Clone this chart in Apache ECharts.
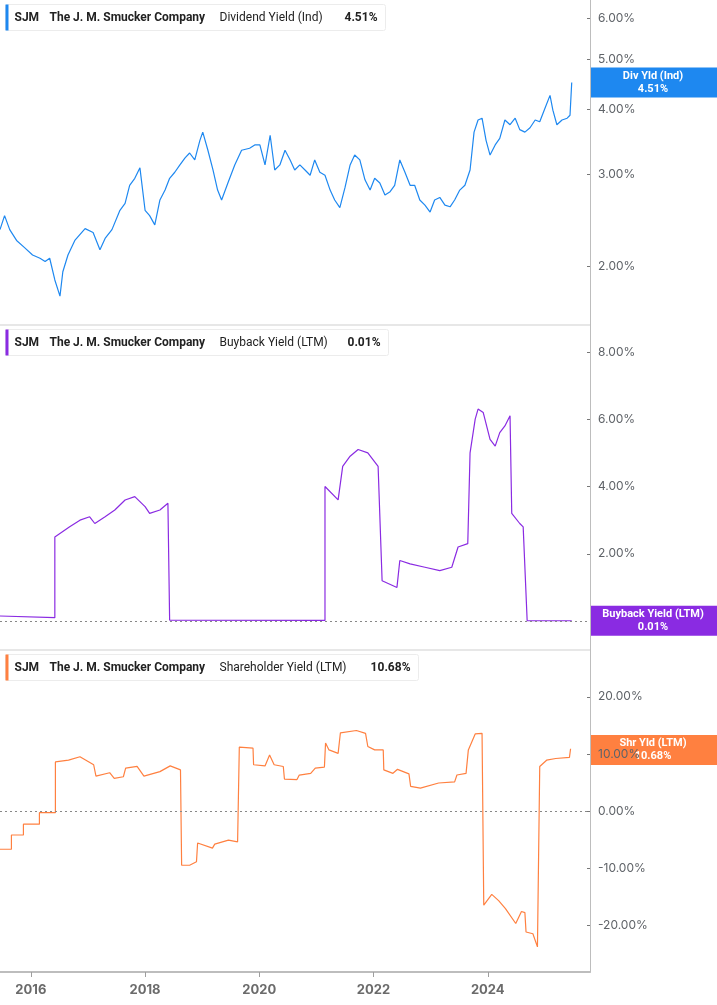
<!DOCTYPE html>
<html lang="en">
<head>
  <meta charset="UTF-8">
  <title>SJM yields</title>
  <style>
    html, body { margin: 0; padding: 0; background: #fff; }
  </style>
</head>
<body>
  <div id="echarts" style="width: 717px; height: 1005px;"></div>
  <script src="https://cdn.jsdelivr.net/npm/echarts@6/dist/echarts.min.js"></script>
  <script>
    // x values are decimal years
    const yearTicks = [2016, 2018, 2020, 2022, 2024];

    // Dividend Yield (Ind), %
    const divT = [2015.46, 2015.54, 2015.63, 2015.75, 2015.89, 2016.03, 2016.16, 2016.25, 2016.33, 2016.42, 2016.51, 2016.56, 2016.65, 2016.77, 2016.95,
      2017.09, 2017.21, 2017.30, 2017.42, 2017.56, 2017.65, 2017.73, 2017.82, 2017.91, 2018.00, 2018.08, 2018.17, 2018.26, 2018.35, 2018.43,
      2018.52, 2018.61, 2018.70, 2018.78, 2018.87, 2018.96, 2019.01, 2019.10, 2019.19, 2019.27, 2019.34, 2019.45, 2019.57, 2019.69, 2019.83,
      2019.92, 2020.01, 2020.10, 2020.19, 2020.27, 2020.36, 2020.45, 2020.54, 2020.62, 2020.71, 2020.80, 2020.89, 2020.97, 2021.06, 2021.15,
      2021.24, 2021.32, 2021.41, 2021.50, 2021.59, 2021.67, 2021.76, 2021.85, 2021.94, 2022.02, 2022.11, 2022.20, 2022.29, 2022.37, 2022.46,
      2022.55, 2022.64, 2022.72, 2022.81, 2022.90, 2022.99, 2023.07, 2023.16, 2023.25, 2023.34, 2023.42, 2023.51, 2023.60, 2023.69, 2023.76,
      2023.83, 2023.90, 2023.97, 2024.04, 2024.13, 2024.21, 2024.30, 2024.39, 2024.48, 2024.56, 2024.65, 2024.74, 2024.83, 2024.91, 2025.00,
      2025.09, 2025.14, 2025.21, 2025.30, 2025.39, 2025.44, 2025.47];
    const divV = [2.35, 2.50, 2.35, 2.24, 2.17, 2.10, 2.07, 2.04, 2.07, 1.88, 1.75, 1.95, 2.10, 2.24, 2.36,
      2.32, 2.15, 2.26, 2.35, 2.56, 2.64, 2.86, 2.95, 3.09, 2.56, 2.50, 2.40, 2.68, 2.80, 2.95,
      3.03, 3.13, 3.23, 3.30, 3.20, 3.49, 3.62, 3.34, 3.06, 2.80, 2.68, 2.89, 3.13, 3.34, 3.37,
      3.42, 3.42, 3.13, 3.57, 3.06, 3.13, 3.34, 3.20, 3.06, 3.13, 3.06, 2.99, 3.20, 3.03, 2.99,
      2.80, 2.68, 2.59, 2.83, 3.13, 3.27, 3.20, 2.93, 2.80, 2.95, 2.89, 2.74, 2.78, 2.86, 3.20,
      3.03, 2.86, 2.86, 2.68, 2.62, 2.54, 2.68, 2.71, 2.62, 2.60, 2.68, 2.80, 2.86, 3.06, 3.62,
      3.82, 3.85, 3.49, 3.27, 3.42, 3.52, 3.82, 3.74, 3.85, 3.66, 3.62, 3.69, 3.82, 3.79, 4.02,
      4.26, 3.99, 3.74, 3.82, 3.85, 3.90, 4.51];

    // Buyback Yield (LTM), %
    const bbT = [2015.46, 2016.42, 2016.42, 2016.68, 2016.86, 2017.03, 2017.12, 2017.30, 2017.47, 2017.65, 2017.82, 2018.00, 2018.08, 2018.26, 2018.40, 2018.43,
      2021.15, 2021.15, 2021.38, 2021.46, 2021.59, 2021.73, 2021.90, 2022.08, 2022.15, 2022.41, 2022.46, 2022.64, 2022.90, 2023.16, 2023.37, 2023.48, 2023.65,
      2023.69, 2023.78, 2023.83, 2023.92, 2024.04, 2024.13, 2024.21, 2024.30, 2024.39, 2024.42, 2024.56, 2024.62, 2024.69, 2025.47];
    const bbV = [0.15, 0.10, 2.50, 2.80, 3.00, 3.10, 2.90, 3.10, 3.30, 3.60, 3.70, 3.40, 3.20, 3.30, 3.50, 0.03,
      0.02, 4.00, 3.60, 4.60, 4.90, 5.10, 5.00, 4.60, 1.20, 1.00, 1.80, 1.70, 1.60, 1.50, 1.60, 2.20, 2.30,
      5.00, 6.00, 6.30, 6.20, 5.40, 5.20, 5.60, 5.80, 6.10, 3.20, 2.90, 2.80, 0.01, 0.01];

    // Shareholder Yield (LTM), %
    const shT = [2015.46, 2015.66, 2015.66, 2015.87, 2015.87, 2016.15, 2016.15, 2016.43, 2016.43, 2016.66, 2016.86, 2017.10, 2017.14, 2017.38, 2017.46, 2017.62,
      2017.66, 2017.86, 2017.98, 2018.26, 2018.44, 2018.62, 2018.64, 2018.78, 2018.90, 2018.92, 2019.18, 2019.22, 2019.46, 2019.62, 2019.65,
      2019.89, 2019.90, 2020.10, 2020.18, 2020.26, 2020.42, 2020.44, 2020.66, 2020.70, 2020.90, 2020.98, 2021.14, 2021.16, 2021.22, 2021.38,
      2021.42, 2021.70, 2021.86, 2021.90, 2022.02, 2022.17, 2022.18, 2022.34, 2022.42, 2022.62, 2022.65, 2022.82, 2023.14, 2023.42, 2023.46,
      2023.62, 2023.66, 2023.78, 2023.90, 2023.93, 2024.07, 2024.19, 2024.31, 2024.49, 2024.59, 2024.65, 2024.67, 2024.79, 2024.87, 2024.91,
      2025.03, 2025.19, 2025.43, 2025.45];
    const shV = [-6.7, -6.7, -4.2, -4.2, -2.3, -2.3, -0.3, -0.3, 8.6, 8.9, 9.5, 8.1, 6.1, 6.7, 5.7, 6.0,
      7.5, 7.8, 6.1, 6.9, 7.9, 7.2, -9.5, -9.5, -8.9, -5.6, -6.5, -5.8, -5.1, -5.4, 11.2,
      11.0, 8.1, 7.9, 9.8, 8.1, 7.8, 5.6, 5.5, 6.3, 6.6, 7.5, 7.7, 11.9, 10.7, 10.1,
      13.7, 14.1, 13.6, 11.3, 10.7, 10.7, 7.2, 6.6, 7.3, 6.5, 4.3, 4.0, 4.9, 5.1, 6.3,
      6.6, 10.7, 13.5, 13.6, -16.5, -14.6, -15.7, -17.1, -19.7, -17.6, -17.8, -21.2, -21.5, -23.8, 7.8,
      8.9, 9.2, 9.4, 10.9];

    const divLog = [2, 3, 4, 5, 6];
    const bbTicks = [2, 4, 6, 8];
    const shTicks = [-20, -10, 0, 10, 20];

    const pair = (t, v) => t.map((x, i) => [x, v[i]]);
    const labelFont = { color: '#5f6368', fontSize: 12, fontFamily: 'Inter' };

    function xAxisFor(idx, show) {
      return {
        type: 'value', gridIndex: idx, min: 2015.46, max: 2025.79,
        axisLine: { show: show, onZero: false, lineStyle: { color: '#bdbdbd', width: 2 } },
        axisTick: { show: show, customValues: yearTicks, length: 5, lineStyle: { color: '#9e9e9e' } },
        axisLabel: { show: show, customValues: yearTicks, formatter: v => String(v), color: '#6b6b6b', fontSize: 13, fontWeight: 'bold', fontFamily: 'Inter', margin: 12 },
        splitLine: { show: false }
      };
    }
    function yAxisFor(idx, opts) {
      return Object.assign({
        gridIndex: idx, position: 'right',
        axisLine: { show: true, lineStyle: { color: '#bdbdbd', width: 1 } },
        axisLabel: Object.assign({ margin: 8, formatter: v => v.toFixed(2) + '%', customValues: opts.ticks }, labelFont),
        axisTick: { show: true, length: -3, customValues: opts.ticks, lineStyle: { color: '#777' } },
        splitLine: { show: false }
      }, opts.axis);
    }

    const echart = echarts.init(document.getElementById('echarts'));
    const zeroLine = {
      silent: true, symbol: 'none', label: { show: false },
      lineStyle: { color: '#888', type: [2, 3], width: 1 },
      data: [{ yAxis: 0 }]
    };
    echart.setOption({
      animation: false,
      grid: [
        { left: 0, right: 127, top: 0, height: 325 },
        { left: 0, right: 127, top: 325, height: 325 },
        { left: 0, right: 127, top: 650, height: 322 }
      ],
      xAxis: [xAxisFor(0, false), xAxisFor(1, false), xAxisFor(2, true)],
      yAxis: [
        yAxisFor(0, { ticks: divLog, axis: { type: 'log', logBase: 10, min: 1.54, max: 6.5 } }),
        yAxisFor(1, { ticks: bbTicks, axis: { type: 'value', min: -0.86, max: 8.8 } }),
        yAxisFor(2, { ticks: shTicks, axis: { type: 'value', min: -28.2, max: 28.2 } })
      ],
      series: [
        { type: 'line', xAxisIndex: 0, yAxisIndex: 0, data: pair(divT, divV), showSymbol: false, lineStyle: { color: '#1e88f0', width: 1.2 } },
        { type: 'line', xAxisIndex: 1, yAxisIndex: 1, data: pair(bbT, bbV), showSymbol: false, lineStyle: { color: '#8a2be2', width: 1.2 }, markLine: zeroLine },
        { type: 'line', xAxisIndex: 2, yAxisIndex: 2, data: pair(shT, shV), showSymbol: false, lineStyle: { color: '#ff8040', width: 1.2 }, markLine: zeroLine }
      ]
    });

    function legendBox(top, width, color, metric, val) {
      return {
        type: 'group', left: 5, top: top,
        children: [
          { type: 'rect', shape: { x: 0, y: 0, width: width, height: 26, r: 2 }, style: { fill: '#fff', stroke: '#ececec' } },
          { type: 'rect', shape: { x: 0, y: 0, width: 3, height: 26 }, style: { fill: color } },
          { type: 'text', x: 9, y: 7, style: { text: 'SJM', font: 'bold 12px Roboto', fill: '#222' } },
          { type: 'text', x: 44, y: 7, style: { text: 'The J. M. Smucker Company', font: 'bold 12px Roboto', fill: '#222' } },
          { type: 'text', x: 214, y: 7, style: { text: metric, font: '12px Roboto', fill: '#222' } },
          { type: 'text', x: width - 8, y: 7, style: { text: val, font: 'bold 12px Roboto', fill: '#222', align: 'right' } }
        ]
      };
    }
    function tag(gi, value, color, line1, line2) {
      const y = echart.convertToPixel({ yAxisIndex: gi }, value);
      return {
        type: 'group', left: 590, top: y - 15,
        children: [
          { type: 'rect', shape: { x: 0, y: 0, width: 127, height: 30 }, style: { fill: color } },
          { type: 'text', x: 63, y: 3, style: { text: line1, font: 'bold 11px Roboto', fill: '#fff', align: 'center' } },
          { type: 'text', x: 63, y: 16, style: { text: line2, font: 'bold 11px Roboto', fill: '#fff', align: 'center' } }
        ]
      };
    }
    echart.setOption({
      graphic: [
        { type: 'line', shape: { x1: 0, y1: 325, x2: 590, y2: 325 }, style: { stroke: '#cfcfcf', lineWidth: 1 } },
        { type: 'line', shape: { x1: 0, y1: 650, x2: 590, y2: 650 }, style: { stroke: '#cfcfcf', lineWidth: 1 } },
        legendBox(4, 380, '#1e88f0', 'Dividend Yield (Ind)', '4.51%'),
        legendBox(329, 383, '#8a2be2', 'Buyback Yield (LTM)', '0.01%'),
        legendBox(654, 413, '#ff8040', 'Shareholder Yield (LTM)', '10.68%'),
        tag(0, 4.51, '#1e88f0', 'Div Yld (Ind)', '4.51%'),
        tag(1, 0.01, '#8a2be2', 'Buyback Yield (LTM)', '0.01%'),
        tag(2, 10.68, '#ff8040', 'Shr Yld (LTM)', '10.68%')
      ]
    });
  </script>
</body>
</html>
